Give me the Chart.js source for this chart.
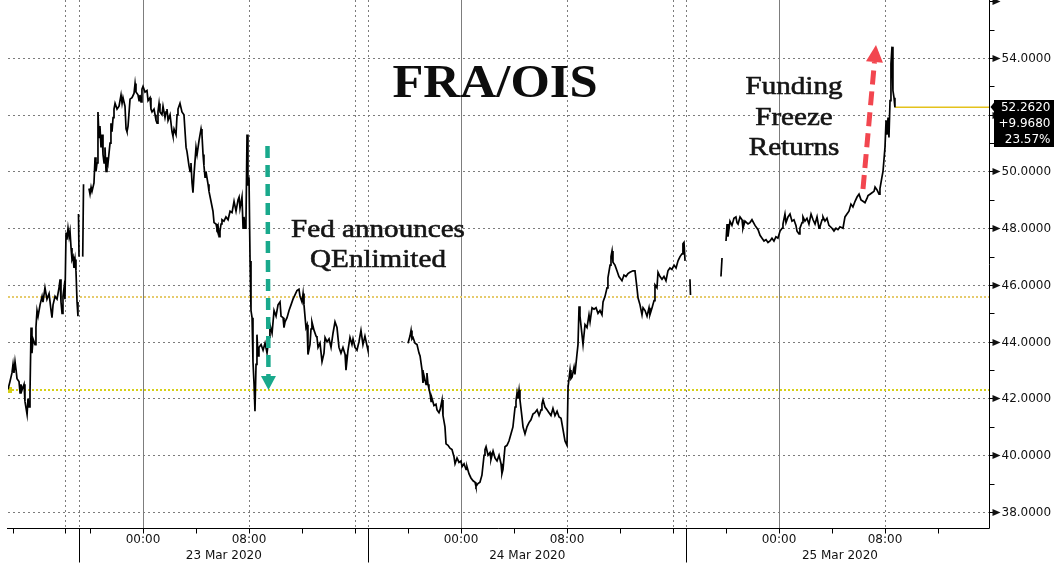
<!DOCTYPE html>
<html>
<head>
<meta charset="utf-8">
<script src="https://cdn.jsdelivr.net/npm/chart.js@4.4.1/dist/chart.umd.min.js"></script>
<style>
  html, body { margin: 0; padding: 0; background: #fff; }
  canvas { display: block; }
</style>
</head>
<body>
<canvas id="fraOisChart" width="1056" height="566"></canvas>
<script>
// FRA/OIS spread, hours counted from 23 Mar 2020 00:00 (weekend compressed on the left)
const hours = [
  -10.19,-10.04,-9.89,-9.81,-9.74,-9.66,-9.58,-9.51,-9.36,-9.28,
  -9.21,-9.13,-8.98,-8.91,-8.75,-8.68,-8.60,-8.53,-8.45,-8.38,
  -8.30,-8.15,-8.08,-8.00,-7.92,-7.77,-7.62,-7.55,-7.40,-7.25,
  -7.09,-6.94,-6.87,-6.79,-6.64,-6.49,-6.34,-6.26,-6.19,-6.11,
  -6.04,-5.96,-5.89,-5.81,-5.74,-5.66,-5.58,-5.51,-5.43,-5.36,
  -5.28,-5.21,-5.13,-5.06,-4.98,-4.91,-4.89,-4.87,-4.83,-4.70,
  -4.55,-4.49,-4.30,
  -4.08,-4.00,-3.92,-3.85,-3.70,-3.62,-3.55,-3.47,-3.40,-3.32,
  -3.25,-3.17,-3.09,-3.02,-2.94,-2.87,-2.79,-2.72,-2.64,-2.49,
  -2.42,-2.34,-2.26,-2.19,-2.11,-1.96,-1.81,-1.66,-1.58,-1.51,
  -1.36,-1.28,-1.21,-1.13,-0.98,-0.83,-0.68,-0.60,-0.53,-0.38,
  -0.30,-0.23,-0.15,-0.08,0.00,0.15,0.30,0.38,0.53,0.60,
  0.68,0.83,0.91,0.98,1.06,1.13,1.21,1.28,1.43,1.51,
  1.66,1.74,1.81,1.89,2.04,2.19,2.26,2.34,2.49,2.57,
  2.64,2.79,2.94,3.09,3.25,3.32,3.47,3.55,3.62,3.70,
  3.77,3.85,4.00,4.08,4.23,4.38,4.45,4.53,4.60,4.68,
  4.75,4.91,4.98,5.13,5.28,5.36,5.51,5.58,5.66,5.74,
  5.81,5.89,5.96,6.11,6.26,6.42,6.57,6.72,6.87,7.02,
  7.17,7.25,7.32,7.47,7.55,7.62,7.70,7.77,7.85,7.92,
  8.00,8.08,8.15,8.23,8.30,8.38,8.45,8.53,8.60,8.68,
  8.75,8.91,9.06,9.21,9.36,9.51,9.58,9.74,9.89,10.04,
  10.19,10.34,10.42,10.57,10.64,10.72,10.87,11.02,11.17,11.32,
  11.47,11.62,11.77,11.85,12.00,12.08,12.15,12.30,12.38,12.45,
  12.60,12.68,12.75,12.91,13.06,13.13,13.21,13.36,13.51,13.66,
  13.74,13.89,14.04,14.19,14.34,14.49,14.64,14.79,14.94,15.09,
  15.25,15.32,15.47,15.62,15.77,15.85,16.00,16.15,16.30,16.45,
  16.60,16.75,16.91,16.98,18.00,
  19.51,19.59,19.80,
  20.00,20.15,20.23,20.30,20.38,20.53,20.68,20.83,20.91,21.06,
  21.13,21.21,21.36,21.43,21.51,21.58,21.66,21.74,21.81,21.96,
  22.11,22.19,22.34,22.42,22.57,22.64,22.79,22.87,23.02,23.17,
  23.32,23.47,23.55,23.70,23.85,24.00,24.08,24.23,24.38,24.45,
  24.60,24.75,24.91,25.06,25.13,25.28,25.43,25.58,25.74,25.81,
  25.89,26.04,26.19,26.26,26.42,26.57,26.72,26.87,27.02,27.09,
  27.17,27.32,27.47,27.62,27.77,27.92,28.08,28.15,28.23,28.30,
  28.38,28.45,28.60,28.68,28.83,28.98,29.13,29.28,29.43,29.58,
  29.74,29.89,30.04,30.11,30.19,30.34,30.49,30.64,30.79,30.94,
  31.09,31.25,31.40,31.55,31.70,31.85,32.00,32.08,32.23,32.30,
  32.38,32.53,32.60,32.75,32.83,32.91,32.98,33.13,33.21,33.36,
  33.51,33.66,33.74,33.89,34.04,34.19,34.34,34.49,34.64,34.72,
  34.87,35.02,35.09,35.25,35.32,35.40,35.47,35.62,35.77,35.92,
  36.00,36.15,36.30,36.45,36.60,36.75,36.98,37.13,37.28,37.36,
  37.51,37.66,37.74,37.89,38.04,38.19,38.26,38.42,38.57,38.64,
  38.79,38.87,39.02,39.17,39.32,39.47,39.62,39.77,39.92,40.08,
  40.23,40.38,40.53,40.68,40.75,40.83,40.91,41.10,
  41.28,41.32,42.50,
  43.62,43.70,43.85,
  44.00,44.08,44.15,44.30,44.45,44.60,44.75,44.83,44.91,45.06,
  45.21,45.28,45.43,45.66,45.81,45.96,46.19,46.42,46.57,46.72,
  46.87,47.02,47.17,47.32,47.47,47.62,47.77,47.92,48.08,48.23,
  48.30,48.45,48.53,48.68,48.83,48.98,49.13,49.28,49.36,49.51,
  49.58,49.74,49.81,49.96,50.11,50.26,50.42,50.57,50.72,50.87,
  51.02,51.09,51.25,51.32,51.47,51.62,51.77,52.00,52.15,52.30,
  52.45,52.60,52.83,52.98,53.13,53.28,53.43,53.58,53.74,53.89,
  54.04,54.19,54.34,54.49,54.64,54.72,54.87,55.02,55.17,55.25,
  55.40,55.55,55.62,55.77,55.85,56.00,56.08,56.15,56.23,56.30,
  56.38,56.45,56.53,56.60,56.68,56.75
];
const fraOis = [
  42.32,42.6,42.9,43.2,42.9,43.3,43.0,42.7,42.6,42.2,
  42.5,42.3,42.5,41.9,41.44,42.0,41.7,42.2,44.5,43.6,
  44.1,43.9,44.5,45.1,44.9,45.3,45.6,45.4,45.9,45.5,
  45.7,45.1,44.85,45.3,45.6,45.5,45.9,46.2,45.4,45.0,
  45.6,45.9,45.5,47.85,47.6,48.0,47.7,47.9,47.3,46.9,
  47.0,46.6,46.9,46.5,45.4,44.9,null,48.5,47.0,null,
  47.0,49.55,null,
  49.4,49.2,49.45,49.3,49.6,50.5,50.0,50.3,52.1,51.2,
  51.6,50.85,51.3,50.6,50.3,50.85,50.0,50.5,50.3,51.0,
  51.7,51.4,51.9,52.2,52.4,52.2,52.3,52.7,52.4,52.6,
  52.3,51.5,51.4,51.6,52.55,52.6,52.75,53.1,52.8,52.7,
  52.5,52.7,52.45,52.9,53.0,52.8,52.85,52.5,52.6,52.2,
  52.1,52.2,52.0,51.8,51.7,52.1,52.4,52.1,52.0,52.3,
  51.9,52.1,52.2,51.8,52.0,51.4,51.25,51.5,51.3,52.0,
  52.2,52.4,52.1,52.0,50.85,50.7,50.2,50.0,50.3,49.6,
  49.25,49.9,50.85,50.6,51.1,51.5,51.3,50.6,50.2,49.8,
  50.0,49.55,49.3,48.95,48.6,48.2,48.15,48.0,48.1,47.7,
  47.9,48.15,48.3,48.25,48.4,48.3,48.6,48.55,48.95,48.6,
  49.0,49.1,48.7,49.1,48.0,48.4,48.0,48.2,51.3,49.5,
  49.8,46.85,45.1,44.85,43.3,42.5,41.55,43.2,44.25,43.5,
  43.8,43.9,43.7,43.95,43.6,44.15,44.6,44.3,45.1,44.9,
  45.3,45.4,44.9,44.85,44.5,44.7,44.85,45.1,45.3,45.5,
  45.65,45.8,45.85,45.6,45.4,45.7,45.3,44.5,44.6,43.55,
  43.9,44.45,44.7,44.4,44.2,44.15,43.8,43.95,43.3,43.6,
  44.15,44.0,44.1,43.8,44.3,44.7,44.5,43.8,43.6,43.8,
  43.55,43.0,43.7,44.15,43.9,44.1,43.8,43.7,44.0,44.4,
  43.9,44.2,43.85,43.7,null,
  44.0,44.0,null,
  43.95,44.2,44.4,44.1,44.15,43.95,43.9,43.6,43.5,43.0,
  42.55,42.8,42.5,42.9,42.5,42.35,42.2,41.9,42.0,41.75,
  41.8,41.6,41.5,41.6,41.95,41.4,41.0,40.4,40.35,40.25,
  40.2,39.95,39.7,39.9,39.75,39.8,39.6,39.7,39.5,39.6,
  39.35,39.2,39.1,39.05,38.9,39.0,39.05,39.3,40.0,40.2,
  40.3,40.0,40.1,39.85,40.15,39.9,39.8,40.0,39.7,39.35,
  39.5,40.3,40.35,40.5,40.75,41.0,41.7,41.9,42.2,42.0,
  42.3,41.95,41.35,41.0,40.75,41.0,41.15,41.25,41.45,41.5,
  41.6,41.4,41.6,41.8,41.95,41.7,41.6,41.5,41.4,41.65,
  41.4,41.55,41.35,41.3,40.9,40.5,40.35,42.4,43.0,42.7,
  42.75,43.1,42.85,43.55,43.9,45.25,44.9,44.25,43.9,44.6,
  44.5,44.95,44.7,45.2,45.15,45.2,45.0,45.1,44.95,45.4,
  45.6,45.9,46.25,46.7,47.0,47.2,46.8,46.7,46.5,46.3,
  46.25,46.15,46.35,46.3,46.4,46.45,46.5,46.5,45.9,45.55,
  45.3,44.95,45.2,45.1,44.9,45.2,44.95,45.2,45.45,46.0,
  45.9,46.45,46.3,46.2,46.3,46.15,46.5,46.6,46.55,46.7,
  46.6,46.85,47.0,47.1,47.45,47.5,46.85,null,
  46.2,45.65,null,
  46.3,46.95,null,
  47.55,48.15,47.7,48.25,48.1,48.35,48.4,48.2,48.15,48.4,
  48.3,48.0,48.25,48.15,48.2,48.3,48.1,47.95,47.75,47.65,
  47.55,47.6,47.5,47.55,47.65,47.55,47.7,47.65,47.9,48.0,
  48.15,48.5,48.2,48.4,48.5,48.25,48.3,48.1,47.9,47.8,
  48.0,48.2,48.4,48.25,48.35,48.15,48.5,48.3,48.15,48.4,
  48.0,48.05,48.3,48.4,48.25,48.35,48.1,48.0,47.9,48.0,
  47.95,48.05,48.0,48.4,48.5,48.6,48.85,48.75,48.95,49.1,
  49.2,49.0,48.95,48.9,49.05,49.15,49.2,49.25,49.3,49.45,
  49.35,49.2,49.4,49.8,50.0,50.85,51.8,51.3,51.9,51.2,
  52.5,53.8,54.4,52.85,52.6,52.262
];

const lastValue = 52.262;
const netChange = 9.968;
const pctChange = 23.57;
const prevClose = 42.294;
const otherLevel = 45.58;

const yMajor = [38, 40, 42, 44, 46, 48, 50, 52, 54, 56];
const yMinor = [39, 41, 43, 45, 47, 49, 51, 53, 55];
const xMinorTicks = [-9.8, -5.9, -4, 0, 4, 8, 12, 16, 20, 24, 28, 32, 36, 40, 44, 48, 52, 56, 60];
const midnights = [0, 24, 48];
const dottedHours = [-5.9, 8, 16, 32, 40, 56];
const sessionBreaks = [-4.83, 17, 41];
const timeLabels = [[0, '00:00'], [8, '08:00'], [24, '00:00'], [32, '08:00'], [48, '00:00'], [56, '08:00']];
const dateLabels = [[6.1, '23 Mar 2020'], [29, '24 Mar 2020'], [52.6, '25 Mar 2020']];

const series = hours.map((h, i) => ({ x: h, y: fraOis[i] }));
const lastLine = [{ x: 56.75, y: lastValue }, { x: 63.85, y: lastValue }];

function seg(ctx, x1, y1, x2, y2) {
    ctx.beginPath(); ctx.moveTo(x1, y1); ctx.lineTo(x2, y2); ctx.stroke();
}
function stretchText(ctx, txt, cx, base, font, sx, weight) {
    ctx.save();
    ctx.font = font;
    ctx.translate(cx, base);
    ctx.scale(sx, 1);
    ctx.textAlign = 'center';
    ctx.textBaseline = 'alphabetic';
    ctx.fillText(txt, 0, 0);
    if (weight) {
        ctx.lineWidth = weight;
        ctx.strokeStyle = ctx.fillStyle;
        ctx.strokeText(txt, 0, 0);
    }
    ctx.restore();
}
function dashedArrow(ctx, x1, y1, x2, y2, color, w, head, headW, dash) {
    const len = Math.hypot(x2 - x1, y2 - y1);
    const ux = (x2 - x1) / len, uy = (y2 - y1) / len;
    const bx = x2 - ux * head, by = y2 - uy * head;
    ctx.save();
    ctx.strokeStyle = color; ctx.fillStyle = color;
    ctx.lineWidth = w; ctx.setLineDash(dash);
    seg(ctx, x1, y1, bx, by);
    ctx.setLineDash([]);
    ctx.beginPath();
    ctx.moveTo(x2, y2);
    ctx.lineTo(bx - uy * headW, by + ux * headW);
    ctx.lineTo(bx + uy * headW, by - ux * headW);
    ctx.closePath(); ctx.fill();
    ctx.restore();
}

const frame = {
    id: 'frame',
    beforeDatasetsDraw(chart) {
        const { ctx, chartArea: a, scales: { x, y } } = chart;
        ctx.save();
        ctx.lineWidth = 1;
        // dotted grid
        ctx.strokeStyle = '#7c7c7c';
        ctx.setLineDash([2, 3]);
        yMajor.forEach(v => {
            const py = Math.round(y.getPixelForValue(v)) + 0.5;
            if (py > a.top + 2 && py < a.bottom) seg(ctx, a.left, py, a.right, py);
        });
        dottedHours.concat(sessionBreaks).forEach(h => {
            const px = Math.round(x.getPixelForValue(h)) + 0.5;
            seg(ctx, px, a.top, px, a.bottom);
        });
        // midnight lines
        ctx.setLineDash([]);
        ctx.strokeStyle = '#7d7d7d';
        midnights.forEach(h => {
            const px = Math.round(x.getPixelForValue(h)) + 0.5;
            seg(ctx, px, a.top, px, a.bottom);
        });
        // reference levels
        ctx.lineWidth = 2;
        ctx.setLineDash([2, 2]);
        ctx.strokeStyle = '#e6cb6c';
        let py = Math.round(y.getPixelForValue(otherLevel));
        seg(ctx, a.left, py, a.right, py);
        ctx.strokeStyle = '#d6d018';
        py = Math.round(y.getPixelForValue(prevClose));
        seg(ctx, a.left, py, a.right, py);
        ctx.setLineDash([]);
        ctx.fillStyle = '#d6d018';
        ctx.fillRect(a.left, py - 3, 4, 6);
        ctx.restore();
    },
    afterDatasetsDraw(chart) {
        const { ctx, chartArea: a, scales: { x, y } } = chart;
        ctx.save();
        ctx.strokeStyle = '#000'; ctx.fillStyle = '#000'; ctx.lineWidth = 1;
        ctx.setLineDash([]);
        const right = Math.round(a.right) + 0.5, bottom = Math.round(a.bottom) + 0.5;
        seg(ctx, a.left - 1, bottom, right, bottom);
        seg(ctx, right, a.top, right, bottom);

        // right axis ticks and labels
        ctx.font = '12px "DejaVu Sans"';
        ctx.textAlign = 'left'; ctx.textBaseline = 'middle';
        ctx.fillStyle = '#111';
        yMinor.forEach(v => {
            const p = Math.round(y.getPixelForValue(v)) + 0.5;
            seg(ctx, right, p, right + 5, p);
        });
        yMajor.forEach(v => {
            const p = Math.round(y.getPixelForValue(v)) + 0.5;
            seg(ctx, right, p, right + 4, p);
            ctx.beginPath();
            ctx.moveTo(right + 3, p - 3.5); ctx.lineTo(right + 11, p); ctx.lineTo(right + 3, p + 3.5);
            ctx.closePath(); ctx.fill();
            if (v < 56) ctx.fillText(v.toFixed(4), right + 12, p + 0.5);
        });

        // bottom axis ticks and labels
        xMinorTicks.forEach(h => {
            const p = Math.round(x.getPixelForValue(h)) + 0.5;
            seg(ctx, p, bottom, p, bottom + 5);
        });
        sessionBreaks.forEach(h => {
            const p = Math.round(x.getPixelForValue(h)) + 0.5;
            seg(ctx, p, bottom, p, bottom + 34);
        });
        ctx.textAlign = 'center';
        timeLabels.forEach(([h, t]) => ctx.fillText(t, x.getPixelForValue(h), bottom + 11));
        dateLabels.forEach(([h, t]) => ctx.fillText(t, x.getPixelForValue(h), bottom + 27));

        // last value box
        const ly = Math.round(y.getPixelForValue(lastValue));
        ctx.fillStyle = '#000';
        ctx.beginPath();
        ctx.moveTo(right + 1, ly); ctx.lineTo(right + 5, ly - 5); ctx.lineTo(right + 5, ly + 5);
        ctx.closePath(); ctx.fill();
        ctx.fillRect(right + 4.5, ly - 7, 60, 47);
        ctx.fillStyle = '#fff';
        ctx.textAlign = 'right';
        ctx.fillText(lastValue.toFixed(4), right + 61, ly + 1);
        ctx.fillText('+' + netChange.toFixed(4), right + 61, ly + 17);
        ctx.fillText(pctChange.toFixed(2) + '%', right + 61, ly + 33);

        // annotations
        ctx.fillStyle = '#0d0d0d';
        stretchText(ctx, 'FRA/OIS', 495, 97, 'bold 46px "Liberation Serif"', 1.1);
        ctx.fillStyle = '#151515';
        const f = '26px "Liberation Serif"';
        stretchText(ctx, 'Fed announces', 378, 237, f, 1.12, 0.6);
        stretchText(ctx, 'QEnlimited', 378, 267, f, 1.12, 0.6);
        stretchText(ctx, 'Funding', 794, 94, f, 1.12, 0.6);
        stretchText(ctx, 'Freeze', 794, 125, f, 1.12, 0.6);
        stretchText(ctx, 'Returns', 794, 155, f, 1.12, 0.6);

        dashedArrow(ctx, 267.5, 146, 268.5, 390, '#19a98c', 4.5, 14, 7.5, [12, 7]);
        dashedArrow(ctx, 863, 189, 876, 45, '#f2464f', 5, 17, 8.5, [14, 7]);
        ctx.restore();
    }
};

new Chart(document.getElementById('fraOisChart'), {
    type: 'line',
    data: {
        datasets: [
            {
                data: series,
                borderColor: '#000',
                borderWidth: 1.7,
                pointRadius: 0,
                tension: 0,
                spanGaps: false
            },
            {
                data: lastLine,
                borderColor: '#e4c21c',
                borderWidth: 1.4,
                pointRadius: 0
            }
        ]
    },
    options: {
        responsive: false,
        animation: false,
        events: [],
        layout: { padding: { left: 8, right: 67, top: 0, bottom: 38 } },
        plugins: { legend: { display: false }, tooltip: { enabled: false } },
        scales: {
            x: { type: 'linear', display: false, min: -10.19, max: 63.85 },
            y: { type: 'linear', display: false, min: 37.436, max: 56.044 }
        }
    },
    plugins: [frame]
});
</script>
</body>
</html>
